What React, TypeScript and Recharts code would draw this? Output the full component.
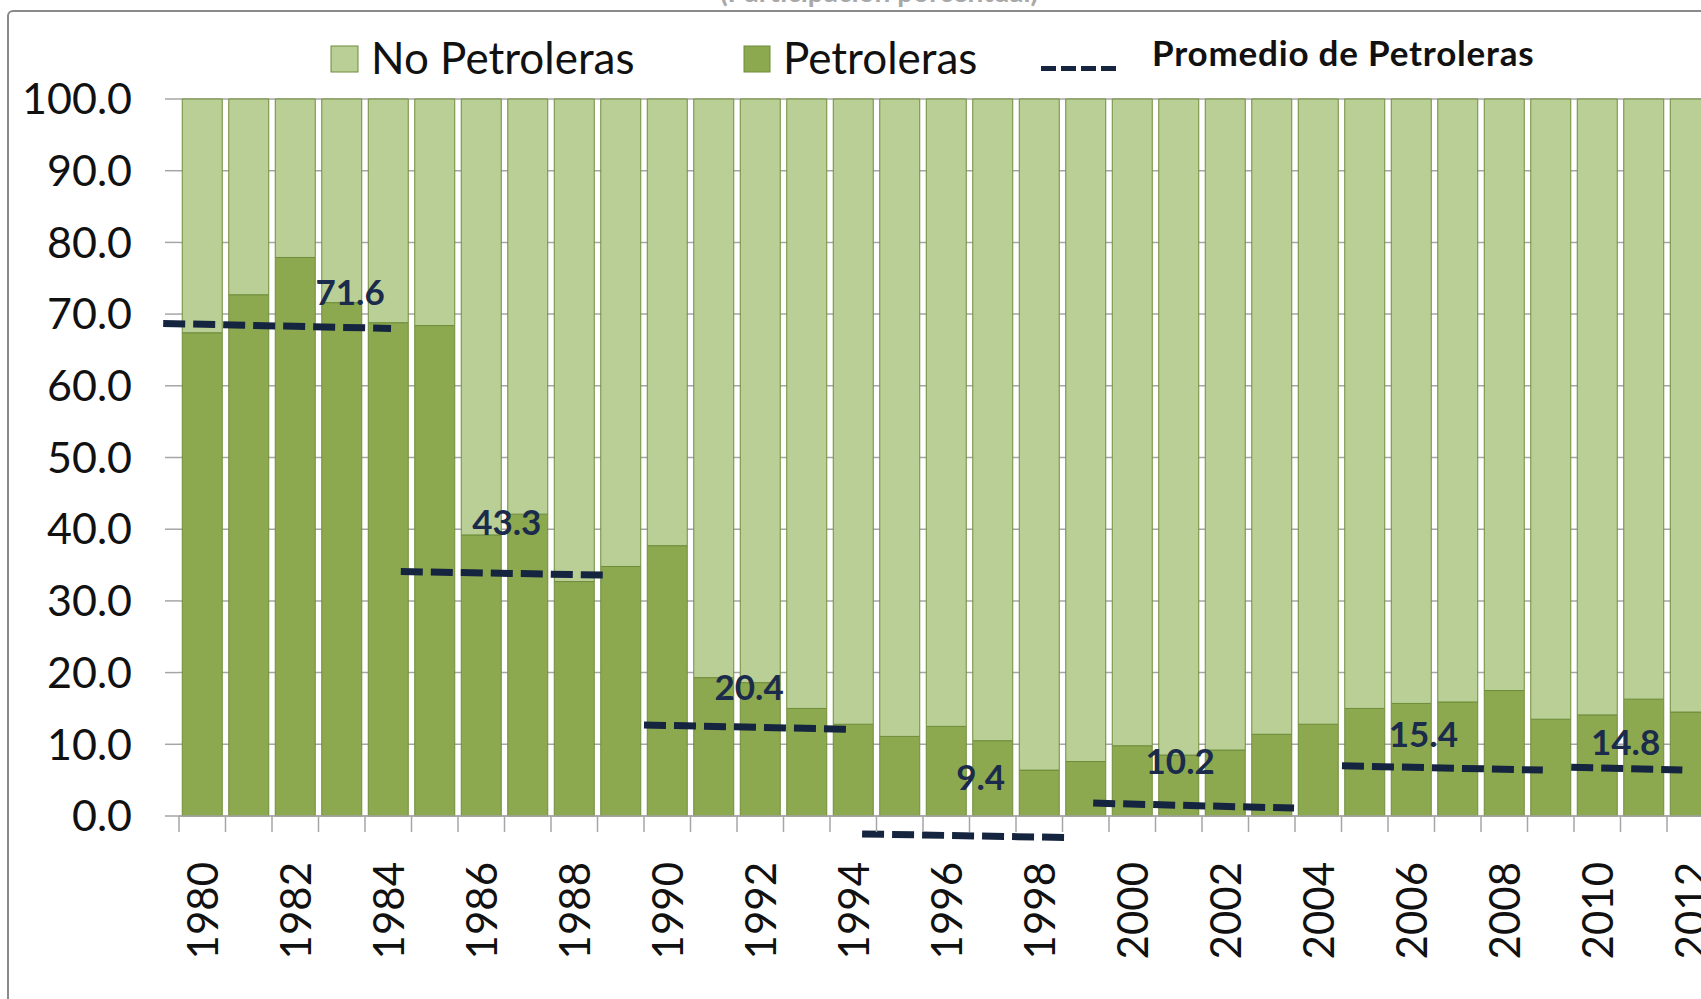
import React from 'react';
import { ComposedChart, Bar, XAxis, YAxis, CartesianGrid, ReferenceLine, ReferenceDot } from 'recharts';

// Participación porcentual de exportaciones
const years = [
  '1980', '1981', '1982', '1983', '1984', '1985', '1986', '1987', '1988', '1989', '1990',
  '1991', '1992', '1993', '1994', '1995', '1996', '1997', '1998', '1999', '2000', '2001',
  '2002', '2003', '2004', '2005', '2006', '2007', '2008', '2009', '2010', '2011', '2012',
];
const petroleras = [
  67.4, 72.7, 77.9, 71.6, 68.8, 68.4, 39.2, 42.1, 32.7, 34.8, 37.7,
  19.3, 18.6, 15.0, 12.8, 11.1, 12.5, 10.5, 6.4, 7.6, 9.8, 8.5,
  9.2, 11.4, 12.8, 15.0, 15.7, 15.9, 17.5, 13.5, 14.1, 16.3, 14.5,
];
const noPetroleras = [
  32.6, 27.3, 22.1, 28.4, 31.2, 31.6, 60.8, 57.9, 67.3, 65.2, 62.3,
  80.7, 81.4, 85.0, 87.2, 88.9, 87.5, 89.5, 93.6, 92.4, 90.2, 91.5,
  90.8, 88.6, 87.2, 85.0, 84.3, 84.1, 82.5, 86.5, 85.9, 83.7, 85.5,
];
const yTicks = [0, 10, 20, 30, 40, 50, 60, 70, 80, 90, 100];

// promedio de petroleras por periodo (tramos como aparecen en el original)
const avgFrom = [1979.16, 1984.27, 1989.5, 1994.19, 1999.16, 2004.51, 2009.44];
const avgTo = [1984.06, 1988.64, 1993.89, 1998.55, 2003.48, 2008.83, 2011.83];
const avgFromValue = [68.7, 34.1, 12.7, -2.5, 1.8, 7.0, 6.8];
const avgToValue = [68.0, 33.6, 12.1, -3.0, 1.1, 6.4, 6.4];
const avgLabels = ['71.6', '43.3', '20.4', '9.4', '10.2', '15.4', '14.8'];
const avgLabelYear = [1983.18, 1986.55, 1991.76, 1996.74, 2001.03, 2006.26, 2010.61];
const avgLabelValue = [73.2, 41.1, 18.1, 5.6, 7.85, 11.6, 10.4];

const LIGHT = '#B9CF96';
const DARK = '#8DA94F';
const EDGE = '#6F8D3B';
const NAVY = '#15243F';
const GRID = '#A6A6A6';
const FONT = 'Lato, "Open Sans", sans-serif';
const TICK_SIZE = 16;
const TICK_MARGIN = 30;

const data = years.map((year, i) => ({
  year,
  yr: Number(year),
  pet: petroleras[i],
  noPet: noPetroleras[i],
}));

const YearTick = (props: any) => {
  const { x, y, payload } = props;
  const half = payload.offset ?? 23.25;
  const axisY = y - TICK_SIZE - TICK_MARGIN;
  const idx = years.indexOf(String(payload.value));
  return (
    <g>
      <line x1={x - half} x2={x - half} y1={axisY} y2={axisY + TICK_SIZE} stroke={GRID} strokeWidth={1.5} />
      {idx % 2 === 0 && (
        <text
          transform={`translate(${x},${y}) rotate(-90)`}
          textAnchor="end"
          dominantBaseline="central"
          fontSize={42}
          fontFamily={FONT}
          fill="#111"
        >
          {payload.value}
        </text>
      )}
    </g>
  );
};

export default function App() {
  return (
    <div style={{ position: 'absolute', left: 0, top: 0, width: 1701, height: 999, overflow: 'hidden', background: '#fff' }}>
      {/* marco */}
      <div style={{ position: 'absolute', left: 7, top: 10, width: 1800, height: 1100, border: '2px solid #8A8A8A', borderRadius: 6 }} />

      <svg width={1701} height={120} style={{ position: 'absolute', left: 0, top: 0 }}>
        <text x={879} y={2} textAnchor="middle" fontSize={28} fontWeight="bold" fontFamily={FONT} fill="#A8A8A8">
          (Participación porcentual)
        </text>
        <rect x={331} y={46} width={27} height={26} fill={LIGHT} stroke={EDGE} strokeWidth={1} />
        <text x={371} y={74} fontSize={44} fontFamily={FONT} fill="#111">No Petroleras</text>
        <rect x={744} y={46} width={26} height={26} fill={DARK} stroke={EDGE} strokeWidth={1} />
        <text x={783} y={74} fontSize={44} fontFamily={FONT} fill="#111">Petroleras</text>
        <line x1={1041} x2={1117} y1={68.5} y2={68.5} stroke={NAVY} strokeWidth={5} strokeDasharray="15 5" />
        <text x={1152} y={66} fontSize={35} fontWeight="bold" letterSpacing={0.8} fontFamily={FONT} fill="#111">
          Promedio de Petroleras
        </text>
      </svg>

      <div style={{ position: 'absolute', left: 0, top: 0 }}>
        <ComposedChart
          width={1720}
          height={999}
          data={data}
          margin={{ top: 99, right: 6.5, bottom: 23, left: 9 }}
          barCategoryGap="7%"
        >
          <CartesianGrid horizontal vertical={false} stroke={GRID} strokeWidth={1.5} />
          <XAxis
            xAxisId="cat"
            dataKey="year"
            interval={0}
            height={160}
            tickLine={false}
            tickSize={TICK_SIZE}
            tickMargin={TICK_MARGIN}
            axisLine={{ stroke: GRID, strokeWidth: 1.5 }}
            tick={<YearTick />}
          />
          <XAxis
            xAxisId="num"
            dataKey="yr"
            type="number"
            domain={[1979.5, 2012.5]}
            allowDataOverflow
            hide
          />
          <YAxis
            domain={[0, 100]}
            ticks={yTicks}
            width={170}
            tickSize={14}
            tickMargin={33}
            axisLine={false}
            tickLine={{ stroke: GRID, strokeWidth: 1.5 }}
            tickFormatter={(v: number) => v.toFixed(1)}
            tick={{ fontSize: 43, fontFamily: FONT, fill: '#111' }}
          />
          <Bar xAxisId="cat" dataKey="pet" stackId="a" fill={DARK} stroke={EDGE} strokeWidth={1} isAnimationActive={false} />
          <Bar xAxisId="cat" dataKey="noPet" stackId="a" fill={LIGHT} stroke={EDGE} strokeWidth={1} isAnimationActive={false} />
          {avgFrom.map((from, i) => (
            <ReferenceLine
              key={`avg-${i}`}
              xAxisId="num"
              segment={[{ x: from, y: avgFromValue[i] }, { x: avgTo[i], y: avgToValue[i] }]}
              ifOverflow="visible"
              stroke={NAVY}
              strokeWidth={7}
              strokeDasharray="22 8"
            />
          ))}
          {avgLabels.map((label, i) => (
            <ReferenceDot
              key={`lbl-${i}`}
              xAxisId="num"
              x={avgLabelYear[i]}
              y={avgLabelValue[i]}
              r={1}
              ifOverflow="visible"
              shape={(p: any) => (
                <text
                  x={p.cx}
                  y={p.cy}
                  textAnchor="middle"
                  dominantBaseline="central"
                  fontSize={35}
                  fontWeight="bold"
                  fontFamily={FONT}
                  fill="#1B2B4B"
                >
                  {label}
                </text>
              )}
            />
          ))}
        </ComposedChart>
      </div>
    </div>
  );
}
